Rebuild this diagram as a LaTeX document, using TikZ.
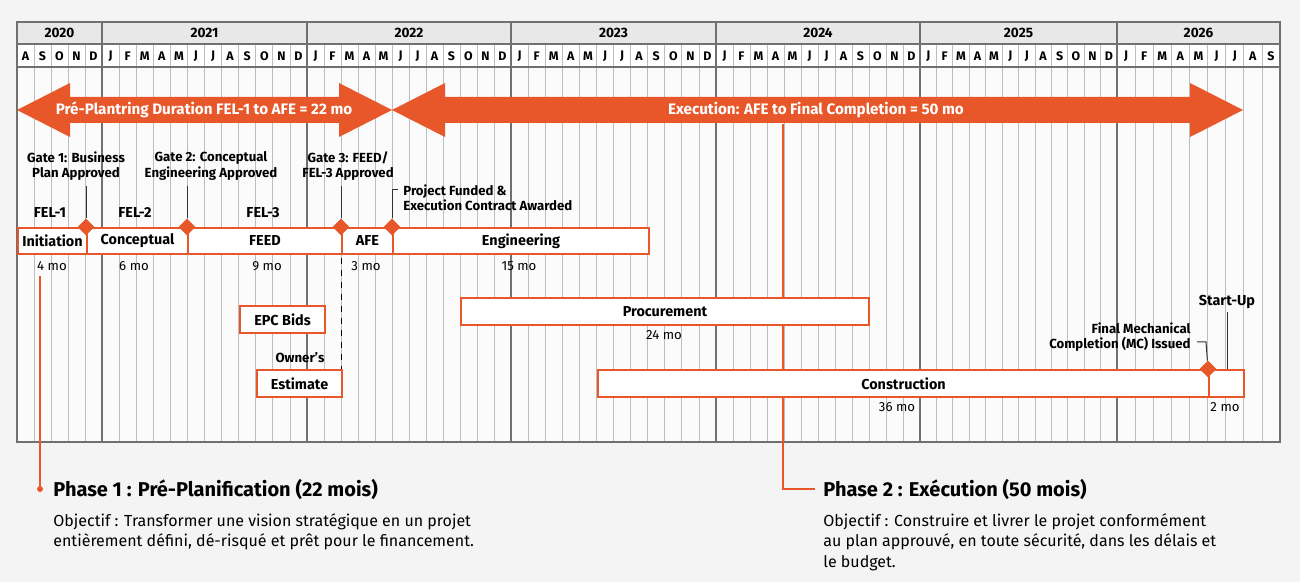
\documentclass[tikz,border=0pt]{standalone}
\usepackage{fontspec}
\usetikzlibrary{shapes.geometric}
\setmainfont{Fira Sans}
\definecolor{org}{HTML}{E8572A}
\definecolor{bg}{HTML}{F4F4F4}
\definecolor{gl}{HTML}{BDBDBD}
\definecolor{gd}{HTML}{707070}
\begin{document}
\begin{tikzpicture}[x=0.5pt,y=-0.5pt,
  lab/.style={font=\fontsize{6.6}{7.6}\selectfont\bfseries, align=center, inner sep=0pt},
  dur/.style={font=\fontsize{6.6}{7}\selectfont, inner sep=0pt},
  bar/.style={draw=org, line width=1pt, fill=white},
  barlab/.style={font=\fontsize{7.2}{8}\selectfont\bfseries, inner sep=0pt},
  gate/.style={diamond, fill=org, minimum size=8.5pt, inner sep=0pt},
  conn/.style={draw=black!80, line width=0.5pt},
  ph/.style={org, line width=0.8pt}]
\useasboundingbox[fill=bg] (0,0) rectangle (1300,582);
% grid area
\fill[white!60!bg] (17,67) rectangle (1280,442);
\fill[gray!18] (17,22) rectangle (1280,44);
\fill[white] (17,44) rectangle (1280,67);
\foreach \y/\a/\b/\n/\ms in {2020/17/102/5/{A,S,O,N,D},2021/102/307/12/{J,F,M,A,M,J,J,A,S,O,N,D},2022/307/511/12/{J,F,M,A,M,J,J,A,S,O,N,D},2023/511/716/12/{J,F,M,A,M,J,J,A,S,O,N,D},2024/716/920/12/{J,F,M,A,M,J,J,A,S,O,N,D},2025/920/1117/12/{J,F,M,A,M,J,J,A,S,O,N,D},2026/1117/1280/9/{J,F,M,A,M,J,J,A,S}}{
  \foreach \m [count=\k from 0] in \ms {
    \draw[gl,line width=0.4pt] ({\a+\k*(\b-\a)/\n},44) -- ({\a+\k*(\b-\a)/\n},442);
    \node[font=\fontsize{6.2}{7}\selectfont\bfseries, fill=white, inner sep=0.5pt] (m\y\k) at ({\a+(\k+0.5)*(\b-\a)/\n},56) {\m};
  }
  \draw[gd,line width=0.6pt] (\a,22) -- (\a,442);
  \node[font=\fontsize{6.8}{7}\selectfont\bfseries] (y\y) at ({(\a+\b)/2},33) {\y};
}
\draw[gd,line width=0.6pt] (17,22) rectangle (1280,442);
\draw[gd,line width=0.6pt] (17,44) -- (1280,44) (17,67) -- (1280,67);
% big arrows
\fill[org] (17,110) -- (70,83) -- (70,97) -- (339,97) -- (339,83) -- (392,110) -- (339,137) -- (339,123) -- (70,123) -- (70,137) -- cycle;
\fill[org] (392,110) -- (445,83) -- (445,97) -- (1190,97) -- (1190,83) -- (1243,110) -- (1190,137) -- (1190,123) -- (445,123) -- (445,137) -- cycle;
\node[font=\fontsize{7.6}{8}\selectfont\bfseries, text=white] (a1) at (204,110) {Pré-Plantring Duration FEL-1 to AFE = 22 mo};
\node[font=\fontsize{7.6}{8}\selectfont\bfseries, text=white] (a2) at (816,110) {Execution: AFE to Final Completion = 50 mo};
% phase connectors (behind bars)
\draw[ph] (40,276) -- (40,489);
\fill[org] (40,489) circle (3);
\draw[ph] (783,124) -- (783,489) -- (815,489);
% main bars
\node[bar, minimum width=34.5pt, minimum height=13pt, anchor=north west, inner sep=0pt] (ini) at (17,227) {};
\node[bar, minimum width=50.5pt, minimum height=13pt, anchor=north west, inner sep=0pt] (con) at (86,227) {};
\node[bar, minimum width=77pt, minimum height=13pt, anchor=north west, inner sep=0pt] (feed) at (187,227) {};
\node[bar, minimum width=25.5pt, minimum height=13pt, anchor=north west, inner sep=0pt] (afe) at (341,227) {};
\node[bar, minimum width=128pt, minimum height=13pt, anchor=north west, inner sep=0pt] (eng) at (392,227) {};
\node[barlab] at (ini) {Initiation};
\node[barlab] at (con) {Conceptual};
\node[barlab] at (feed) {FEED};
\node[barlab] at (afe) {AFE};
\node[barlab] at (eng) {Engineering};
\node[bar, minimum width=204pt, minimum height=13.5pt, anchor=north west, inner sep=0pt] (proc) at (460,297) {};
\node[barlab] at (proc) {Procurement};
\node[bar, minimum width=305.5pt, minimum height=13.5pt, anchor=north west, inner sep=0pt] (cons) at (597,369) {};
\node[barlab] at (cons) {Construction};
\node[bar, minimum width=17.5pt, minimum height=13.5pt, anchor=north west, inner sep=0pt] (su) at (1208,369) {};
\node[bar, minimum width=42.5pt, minimum height=13.5pt, anchor=north west, inner sep=0pt] (epc) at (239,305) {};
\node[barlab] at (epc) {EPC Bids};
\node[bar, minimum width=42.5pt, minimum height=13.5pt, anchor=north west, inner sep=0pt] (est) at (256,369) {};
\node[barlab] at (est) {Estimate};
\node[lab] (own) at (300,358) {Owner's};
\draw[dashed, line width=0.5pt] (341,258) -- (341,369);
% phase labels
\node[barlab] (f1) at (50,213) {FEL-1};
\node[barlab] (f2) at (135,213) {FEL-2};
\node[barlab] (f3) at (263,213) {FEL-3};
% durations
\node[dur] at (52,266) {4 mo};
\node[dur] at (134,266) {6 mo};
\node[dur] at (267,266) {9 mo};
\node[dur] at (366,266) {3 mo};
\node[dur] at (519,266) {15 mo};
\node[dur] at (664,335) {24 mo};
\node[dur] at (897,407) {36 mo};
\node[dur] at (1225,407) {2 mo};
% gates
\node[lab] (g1l) at (76,166) {Gate 1: Business\\Plan Approved};
\node[lab] (g2l) at (211,166) {Gate 2: Conceptual\\Engineering Approved};
\node[lab] (g3l) at (348,166) {Gate 3: FEED/\\FEL-3 Approved};
\node[lab, align=left, anchor=west] (g4l) at (403,198) {Project Funded \&\\Execution Contract Awarded};
\node[lab, align=right, anchor=east] (mcl) at (1191,337) {Final Mechanical\\Completion (MC) Issued};
\node[barlab] (sul) at (1227,302) {Start-Up};
\node[gate] (g1) at (86,227) {};
\node[gate] (g2) at (187,227) {};
\node[gate] (g3) at (341,227) {};
\node[gate] (g4) at (392,227) {};
\node[gate] (g5) at (1208,369) {};
\draw[conn] (86,186) -- (g1);
\draw[conn] (187,186) -- (g2);
\draw[conn] (341,186) -- (g3);
\draw[conn] (398,190) -- (392,190) -- (g4);
\draw[conn] (1197,342) -- (1206,342) -- (g5);
\draw[conn] (1227,312) -- (1227,369);
% phase texts
\node[anchor=west, font=\fontsize{10}{12}\selectfont\bfseries, inner sep=0pt] (p1) at (53,489) {Phase 1 : Pré-Planification (22 mois)};
\node[anchor=north west, align=left, font=\fontsize{8}{10.2}\selectfont, inner sep=0pt] (o1) at (53,513) {Objectif : Transformer une vision stratégique en un projet\\entièrement défini, dé-risqué et prêt pour le financement.};
\node[anchor=west, font=\fontsize{10}{12}\selectfont\bfseries, inner sep=0pt] (p2) at (823,489) {Phase 2 : Exécution (50 mois)};
\node[anchor=north west, align=left, font=\fontsize{8}{10.2}\selectfont, inner sep=0pt] (o2) at (823,513) {Objectif : Construire et livrer le projet conformément\\au plan approuvé, en toute sécurité, dans les délais et\\le budget.};
\end{tikzpicture}
\end{document}
